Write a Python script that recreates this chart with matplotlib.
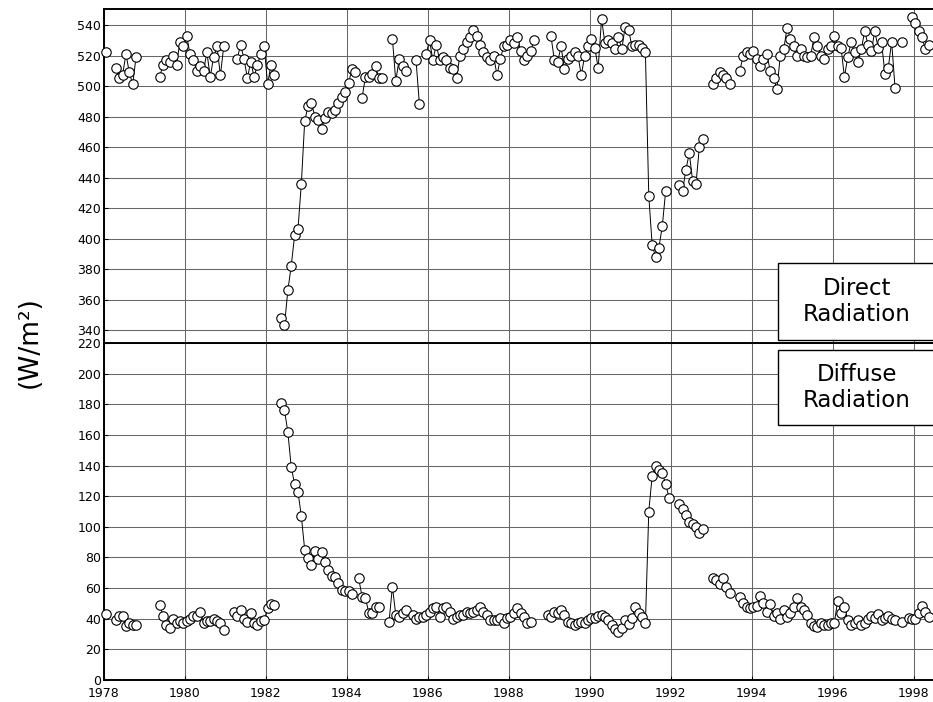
import numpy as np
import matplotlib
matplotlib.use("Agg")
import matplotlib.pyplot as plt
from matplotlib.patches import Rectangle

N = np.nan
start_year = 1978

# Monthly direct radiation (W/m^2), Jan 1978 onward
direct = [
    522, N, N, 512, 505, 507, 521, 509, 501, 519, N, N,          # 1978
    N, N, N, N, 506, 514, 517, 516, 520, 514, 529, 526,           # 1979
    533, 521, 517, 510, 513, 510, 522, 506, 519, 526, 507, 526,   # 1980
    N, N, N, 518, 527, 518, 505, 516, 506, 514, 521, 526,         # 1981
    501, 514, 507, N, 348, 343, 366, 382, 402, 406, 436, 477,     # 1982
    487, 489, 480, 478, 472, 479, 483, 482, 484, 489, 493, 496,   # 1983
    502, 511, 509, N, 492, 506, 506, 508, 513, 505, 505, N,       # 1984
    N, 531, 503, 518, 513, 510, N, N, 517, 488, N, 521,           # 1985
    530, 517, 527, 517, 519, 517, 512, 511, 505, 520, 524, 529,   # 1986
    532, 537, 533, 527, 522, 519, 517, 520, 507, 518, 526, 527,   # 1987
    530, 528, 532, 523, 517, 520, 523, 530, N, N, N, N,           # 1988
    533, 517, 516, 526, 511, 518, 520, 522, 520, 507, 520, 526,   # 1989
    531, 525, 512, 544, 528, 530, 528, 524, 532, 524, 539, 537,   # 1990
    526, 527, 527, 525, 522, 428, 396, 388, 394, 408, 431, N,     # 1991
    N, N, 435, 431, 445, 456, 438, 436, 460, 465, N, N,           # 1992
    501, 505, 509, 507, 505, 501, N, N, 510, 520, 522, 521,       # 1993
    523, 518, 513, 518, 521, 510, 505, 498, 520, 524, 538, 531,   # 1994
    526, 520, 524, 520, 519, 520, 532, 526, 520, 518, 524, 526,   # 1995
    533, 526, 525, 506, 519, 529, 522, 516, 524, 536, 527, 523,   # 1996
    536, 525, 529, 508, 512, 529, 499, N, 529, N, N, 545,         # 1997
    541, 536, 532, 524, 527, N,                                   # 1998
]

# Monthly diffuse radiation (W/m^2), Jan 1978 onward
diffuse = [
    43, N, N, 39, 42, 42, 35, 37, 36, 36, N, N,                           # 1978
    N, N, N, N, 49, 42, 36, 34, 40, 37.5, 38.5, 37,                       # 1979
    38.5, 40, 42, 41.5, 44.6, 37, 38.5, 38.5, 39.5, 38.5, 37, 32.6,       # 1980
    N, N, 44.6, 42, 45.5, 40, 38, 43.5, 37, 36, 38.5, 39,                 # 1981
    47, 49.6, 49, N, 181, 176, 162, 139, 128, 123, 107, 85,               # 1982
    79.6, 75, 84.4, 79, 83.8, 77, 72, 68, 67.5, 63.5, 58.7, 58.3,         # 1983
    58.3, 56, N, 66.4, 54.4, 53.5, 44, 44, 47.8, 47.8, N, N,              # 1984
    38, 61, 42.4, 41.3, 43.5, 46, N, 42.4, 39.6, 41.3, 41.3, 42.4,        # 1985
    44.6, 46.8, 47.8, 41.3, 46.8, 47.8, 44.6, 39.6, 41.3, 42.4, 42.4, 44.6,  # 1986
    43.5, 44.6, 46, 47.8, 44.6, 42.4, 39, 39, 39, 40.3, 37, 40.3,         # 1987
    41.3, 44, 46.8, 44, 41.3, 37, 38, N, N, N, N, 42.4,                   # 1988
    41.3, 44.6, 43.5, 46, 42.4, 38, 37, 35.6, 37, 38, 37.4, 39,           # 1989
    40.3, 40.3, 41.7, 42.4, 41.3, 39, 36, 33, 31.5, 33.7, 39, 36.5,       # 1990
    40.3, 47.8, 44, 41.3, 37, 110, 133, 140, 137, 135, 128, 119,          # 1991
    N, N, 115, 111.5, 107.7, 103.3, 101.8, 100, 95.7, 98.3, N, N,         # 1992
    66.4, 65, 62.7, 66.4, 61, 56.6, N, N, 54, 50, 47.5, 47,               # 1993
    47.5, 48.3, 54.8, 50, 44.6, 49.5, 42, 44, 40, 45.5, 41, 44,           # 1994
    47.8, 53.3, 47.8, 45.6, 42.4, 37.4, 35, 34.5, 37.4, 36, 36, 37,       # 1995
    37, 51.8, 43.5, 47.8, 39, 35.9, 37.4, 39, 35.9, 37.4, 39.6, 41.7,     # 1996
    40.3, 43, 39, 40.3, 41.7, 39.6, 39, N, 38, N, 40.3, 40,               # 1997
    39.6, 43.5, 48.3, 44.6, 41.3, N,                                      # 1998
]

x_ticks = list(range(1978, 1999, 2))
top_ticks = list(range(340, 541, 20))
bottom_ticks = list(range(0, 221, 20))
label_direct = "Direct\nRadiation"
label_diffuse = "Diffuse\nRadiation"

t_dir = start_year + (np.arange(len(direct)) + 0.5) / 12.0
t_dif = start_year + (np.arange(len(diffuse)) + 0.5) / 12.0

W, H = 933, 702
fig = plt.figure(figsize=(W / 100, H / 100), dpi=100)
fig.patch.set_facecolor("white")

left = 104 / W
width = 1.0 - left
ax_top = fig.add_axes([left, 1 - 343 / H, width, (343 - 9) / H])
ax_bot = fig.add_axes([left, 1 - 680 / H, width, (680 - 343) / H])

xlim = (1978, 1998.48)
grid_kw = dict(color="0.4", lw=0.75, zorder=1)
mk_kw = dict(color="black", lw=0.7, marker="o", markersize=6.8,
             markerfacecolor="white", markeredgecolor="black",
             markeredgewidth=0.8, zorder=3, clip_on=False)

for ax, t, v, yl, yt in [(ax_top, t_dir, direct, (331.5, 550.5), top_ticks),
                         (ax_bot, t_dif, diffuse, (0, 220), bottom_ticks)]:
    ax.set_xlim(*xlim)
    ax.set_ylim(*yl)
    ax.set_yticks(yt)
    ax.set_xticks(x_ticks)
    for yy in yt:
        ax.axhline(yy, **grid_kw)
    for xx in x_ticks:
        ax.axvline(xx, **grid_kw)
    ax.plot(t, v, **mk_kw)
    ax.tick_params(axis="y", length=3, width=0.8, direction="in",
                   labelsize=9, pad=2)
    ax.tick_params(axis="x", length=3, width=0.8, direction="in",
                   labelsize=9, pad=5)
    ax.spines["right"].set_visible(False)
    for s in ["left", "top", "bottom"]:
        ax.spines[s].set_linewidth(1.4)

ax_top.spines["bottom"].set_visible(False)
ax_top.tick_params(axis="x", labelbottom=False, bottom=False)

fig.text(30 / W, 1 - 342 / H, "(W/m²)", rotation=90, ha="center", va="center",
         fontsize=19)

# labelled boxes
for (y0, y1, txt) in [(263, 340, label_direct), (350, 425, label_diffuse)]:
    rect = Rectangle((778 / W, 1 - y1 / H), 200 / W, (y1 - y0) / H,
                     transform=fig.transFigure, facecolor="white",
                     edgecolor="black", lw=1.0, zorder=10)
    fig.add_artist(rect)
    fig.text(857 / W, 1 - (y0 + y1) / 2 / H, txt, ha="center", va="center",
             fontsize=16.5, linespacing=1.2, zorder=11)

fig.savefig("out.png", dpi=100, facecolor="white")
